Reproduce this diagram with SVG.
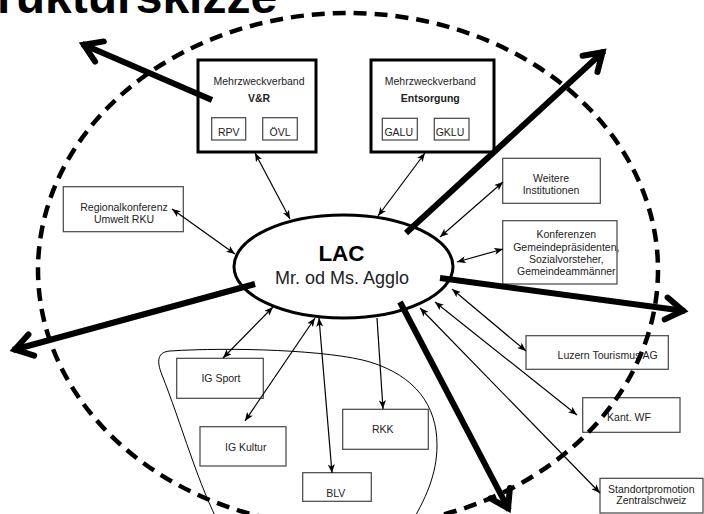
<svg xmlns="http://www.w3.org/2000/svg" width="704" height="514" viewBox="0 0 704 514">
<style>
text{font-family:"Liberation Sans",Arial,sans-serif;fill:#222;font-size:10.5px;text-anchor:middle}
.b{font-weight:bold}
.box{fill:#fff;stroke:#444;stroke-width:1.2}
.big{fill:#fff;stroke:#000;stroke-width:3}
.thin{fill:none;stroke:#000;stroke-width:1.2;marker-end:url(#a)}
.both{marker-start:url(#a)}
.thick{fill:none;stroke:#000;stroke-width:6;marker-end:url(#t)}
</style>
<defs>
<marker id="a" viewBox="0 0 10 8" refX="10" refY="4" markerWidth="9" markerHeight="7" markerUnits="userSpaceOnUse" orient="auto-start-reverse">
<path d="M0,0 L10,4 L0,8 L2.5,4 z" fill="#000"/>
</marker>
<marker id="t" viewBox="-28 -16 34 32" refX="0" refY="0" markerWidth="34" markerHeight="32" markerUnits="userSpaceOnUse" orient="auto">
<path d="M-19,-11 L-2,0 L-19,11" fill="none" stroke="#000" stroke-width="6" stroke-linecap="round"/>
</marker>
</defs>

<text x="-3" y="12.5" class="b" style="font-size:48px;text-anchor:start;fill:#000">rukturskizze</text>

<path id="cluster" d="M 170,351 C 230,347 330,350 370,362 C 415,376 437,405 437,445 C 437,475 425,500 410,525 L 220,525 C 200,490 180,420 162,375 C 156,360 158,352 170,351 Z" fill="none" stroke="#000" stroke-width="1"/>

<g id="vr">
<rect class="big" x="198" y="60" width="118" height="92"/>
<text x="259" y="85">Mehrzweckverband</text>
<text x="259" y="102" class="b">V&amp;R</text>
<rect class="box" x="211.7" y="117.7" width="34" height="22.3"/>
<text x="228.7" y="136">RPV</text>
<rect class="box" x="262.7" y="117.7" width="34.6" height="22.3"/>
<text x="280" y="136">ÖVL</text>
</g>

<g id="entsorgung">
<rect class="big" x="371" y="60" width="123" height="92"/>
<text x="430.3" y="85">Mehrzweckverband</text>
<text x="430.3" y="102" class="b">Entsorgung</text>
<rect class="box" x="382.3" y="118.3" width="35" height="21.7"/>
<text x="398.7" y="136">GALU</text>
<rect class="box" x="434.3" y="118.3" width="34.7" height="21.7"/>
<text x="450" y="136">GKLU</text>
</g>

<g id="rku">
<rect class="box" x="63.3" y="186.7" width="120" height="45"/>
<text x="124" y="211">Regionalkonferenz</text>
<text x="124" y="223">Umwelt RKU</text>
</g>

<g id="weitere">
<rect class="box" x="502.7" y="158.3" width="97.6" height="45"/>
<text x="551" y="181.7">Weitere</text>
<text x="551" y="193.5">Institutionen</text>
</g>

<g id="konferenzen">
<rect class="box" x="502.7" y="220.7" width="114.3" height="63.3"/>
<text x="566.3" y="238.3">Konferenzen</text>
<text x="566.3" y="251">Gemeindepräsidenten,</text>
<text x="566.3" y="262.7">Sozialvorsteher,</text>
<text x="566.3" y="275">Gemeindeammänner</text>
</g>

<g id="luzern">
<rect class="box" x="526" y="335.7" width="142.3" height="33.6"/>
<text x="607.7" y="358.7">Luzern Tourismus AG</text>
</g>

<g id="kantwf">
<rect class="box" x="582.7" y="397.7" width="97.3" height="34.6"/>
<text x="629" y="421">Kant. WF</text>
</g>

<g id="standort">
<rect class="box" x="600" y="478.3" width="103" height="34.7"/>
<text x="651.3" y="492.7">Standortpromotion</text>
<text x="651.3" y="504">Zentralschweiz</text>
</g>

<g id="igsport">
<rect class="box" x="176.7" y="358.3" width="86.6" height="40"/>
<text x="221" y="381.7">IG Sport</text>
</g>

<g id="igkultur">
<rect class="box" x="200" y="426.7" width="86" height="39.3"/>
<text x="245.7" y="451">IG Kultur</text>
</g>

<g id="rkk">
<rect class="box" x="342.7" y="409.3" width="85.6" height="40"/>
<text x="382.7" y="432.7">RKK</text>
</g>

<g id="blv">
<rect class="box" x="302.7" y="472.7" width="68.6" height="28.6"/>
<text x="335.7" y="496.7">BLV</text>
</g>

<g id="lac">
<ellipse cx="343.5" cy="266.5" rx="109.5" ry="51.5" fill="#fff" stroke="#000" stroke-width="3"/>
<text x="341.5" y="260.7" class="b" style="font-size:22.5px;fill:#000">LAC</text>
<text x="342" y="284" style="font-size:18px">Mr. od Ms. Agglo</text>
</g>

<g id="connectors">
<path class="thin both" d="M255,153 L290,219"/>
<path class="thin both" d="M425,153 L378,216"/>
<path class="thin both" d="M172,209 L235,254"/>
<path class="thin both" d="M503,182 L440,237"/>
<path class="thin both" d="M503,249 L457,262"/>
<path class="thin both" d="M452,289 L526,351"/>
<path class="thin both" d="M435,302 L577,415"/>
<path class="thin both" d="M420,308 L600,493"/>
<path class="thin both" d="M273,307 L223,358"/>
<path class="thin both" d="M315,318 L245,421"/>
<path class="thin both" d="M319,318 L332,473"/>
<path class="thin" d="M377,318 L383,409"/>
<path class="thick" d="M212,100 L82,44"/>
<path class="thick" d="M406,233 L604,51"/>
<path class="thick" d="M255,284 L13,350"/>
<path class="thick" d="M440,278 L685,311"/>
<path class="thick" d="M400,302 L509,510"/>
</g>

<ellipse id="boundary" cx="348" cy="270" rx="310" ry="257" fill="none" stroke="#000" stroke-width="4.5" stroke-dasharray="13 8"/>
</svg>
